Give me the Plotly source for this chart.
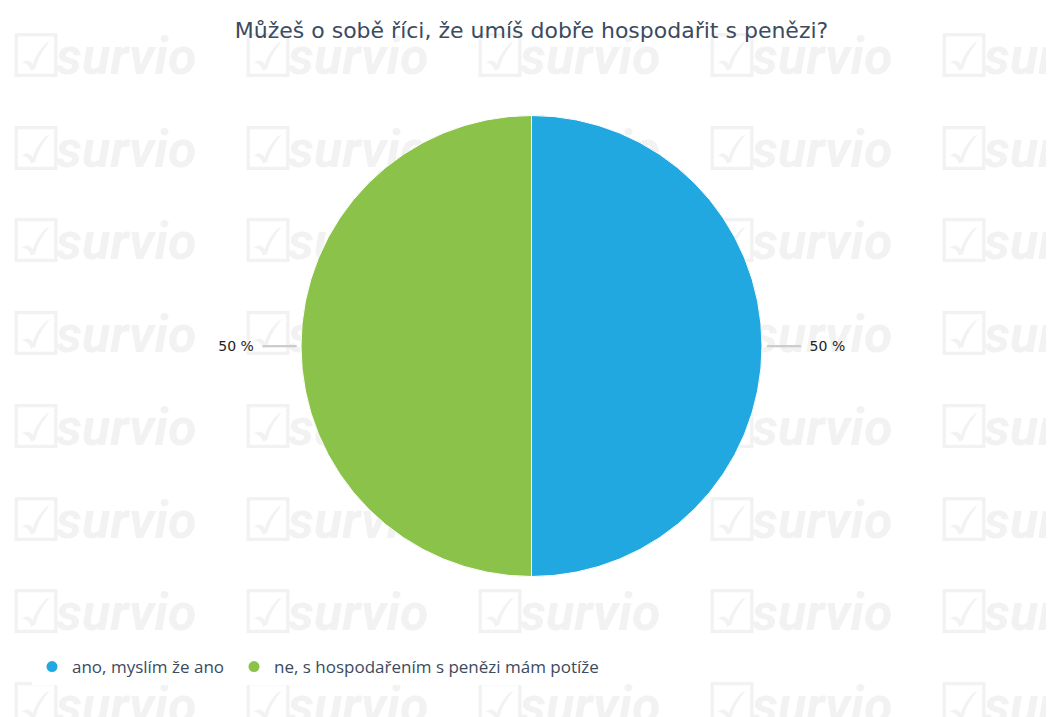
import numpy as np
import plotly.graph_objects as go

title_text = "Můžeš o sobě říci, že umíš dobře hospodařit s penězi?"
categories = ["ano, myslím že ano", "ne, s hospodařením s penězi mám potíže"]
values = [50, 50]
colors = ["#21a8e0", "#8bc34a"]

# page offset (browser body margin) and figure size
OX, OY = 8, 8
FW, FH = 1046, 709


def fx(px):
    return (px - OX) / FW


def fy(py):
    return 1 - (py - OY) / FH


labels_txt = [f"{v / sum(values) * 100:.0f} %" for v in values]
line = "<span style='color:#cccccc'>━━━━</span>"
texttemplates = [f"{line}  {t}" if i == 0 else f"{t}  {line}" for i, t in enumerate(labels_txt)]

fig = go.Figure()

# watermark (decoration)
wx = np.arange(12, 1054, 232)
wy = np.arange(61, 760, 92.7)
gx, gy = np.meshgrid(wx, wy)
fig.add_trace(go.Scatter(
    x=gx.ravel() - 3, y=gy.ravel() + 1, mode="text",
    text=["☑"] * gx.size, textposition="middle right",
    textfont=dict(family="DejaVu Sans", size=60, color="#f2f2f2", weight="bold"),
    hoverinfo="skip", showlegend=False,
))
fig.add_trace(go.Scatter(
    x=gx.ravel() + 44, y=gy.ravel(), mode="text",
    text=["survio"] * gx.size, textposition="middle right",
    textfont=dict(family="Roboto", size=52, color="#f2f2f2", weight="bold", style="italic"),
    hoverinfo="skip", showlegend=False,
))

fig.add_trace(go.Pie(
    labels=categories, values=values, sort=False, direction="clockwise",
    marker=dict(colors=colors, line=dict(color="white", width=1)),
    text=labels_txt, textinfo="text", texttemplate=texttemplates,
    textposition="outside",
    textfont=dict(family="DejaVu Sans", size=14, color="#222222"),
    domain=dict(x=[fx(301), fx(762)], y=[fy(577), fy(115)]),
    showlegend=False, hoverinfo="label+percent",
))

legend_x = [32, 234]
for i, (c, col) in enumerate(zip(categories, colors)):
    fig.add_trace(go.Scatter(
        x=[None], y=[None], mode="markers", name=c,
        marker=dict(symbol="circle", size=11, color=col),
        legend="legend" if i == 0 else f"legend{i + 1}",
    ))

leg_common = dict(orientation="h", xanchor="left", y=fy(667), yanchor="middle",
                  font=dict(family="Open Sans", size=17, color="#3b4b60"),
                  itemclick=False, itemdoubleclick=False)

fig.update_layout(
    width=FW, height=FH,
    margin=dict(l=0, r=0, t=0, b=0),
    paper_bgcolor="white", plot_bgcolor="rgba(0,0,0,0)",
    xaxis=dict(range=[OX, OX + FW], visible=False, fixedrange=True),
    yaxis=dict(range=[OY + FH, OY], visible=False, fixedrange=True),
    title=dict(text=title_text, x=fx(531.5), xanchor="center", y=fy(30), yanchor="middle",
               font=dict(family="DejaVu Sans", size=22, color="#3b4b60")),
    legend=dict(x=fx(legend_x[0]), **leg_common),
    legend2=dict(x=fx(legend_x[1]), **leg_common),
    showlegend=True,
)

fig.write_html("out.html")
